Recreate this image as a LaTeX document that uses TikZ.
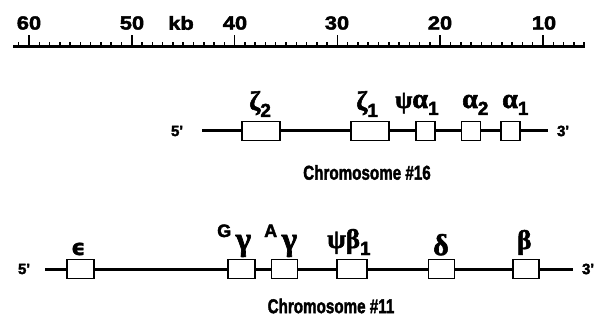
\documentclass[tikz,border=0pt]{standalone}
\usepackage{fontspec}
\setmainfont{Liberation Sans}[BoldFeatures={FakeBold=2.2}]
\newfontfamily\gkfont{Liberation Serif Bold}[FakeBold=2]
\newfontfamily\epsfont{DejaVu Sans Bold}[FakeBold=1.2]
\newcommand\lsub[1]{\raisebox{-7pt}{\normalfont\bfseries\fontsize{19}{19}\selectfont #1}}
\newcommand\lsup[1]{\raisebox{13pt}{\normalfont\bfseries\fontsize{18}{18}\selectfont #1}}
\newcommand\gsz[2]{{\fontsize{#1}{#1}\selectfont #2}}
\newcommand\prm{\textquotesingle}
\begin{document}
\begin{tikzpicture}[x=1pt,y=-1pt,
  numtxt/.style={font=\bfseries\fontsize{19}{19}\selectfont, inner sep=0pt, xscale=1.15},
  captxt/.style={font=\bfseries\fontsize{20}{20}\selectfont, inner sep=0pt, xscale=0.76},
  endtxt/.style={font=\bfseries\fontsize{15}{15}\selectfont, inner sep=0pt},
  gene/.style={draw, line width=1.8pt, minimum height=19pt, inner sep=0pt, fill=white},
  gkA/.style={font=\gkfont\fontsize{25}{25}\selectfont, inner sep=0pt, anchor=base west},
  gkB/.style={font=\gkfont\fontsize{27}{27}\selectfont, inner sep=0pt, anchor=base west},
  dna/.style={line width=3pt},
  tickln/.style={line width=1.5pt}]
\useasboundingbox (0,0) rectangle (596,320);

% kilobase scale
\coordinate (rl) at (13,47);
\coordinate (rr) at (585,47);
\draw[line width=3pt] (rl) -- (rr);
\foreach \k in {6,...,61}{
  \draw[tickln] ({543-(\k-10)*10.28},47) -- ++(0,-5);
}
\foreach \k in {10,20,...,60}{
  \draw[tickln] ({543-(\k-10)*10.28},47) -- ++(0,-12);
}
\node[numtxt] (n60) at (29,23) {60};
\node[numtxt] (n50) at (132,23) {50};
\node[numtxt] (kb)  at (181,23) {kb};
\node[numtxt] (n40) at (235,23) {40};
\node[numtxt] (n30) at (337,23) {30};
\node[numtxt] (n20) at (440,23) {20};
\node[numtxt] (n10) at (544,23) {10};

% alpha-globin cluster, chromosome 16
\node[endtxt] (c16l) at (177,131) {5\prm};
\node[endtxt] (c16r) at (563,131) {3\prm};
\coordinate (c16a) at (202,131);
\coordinate (c16b) at (548,131);
\node[gene, minimum width=38pt] (z2)  at (261,131) {};
\node[gene, minimum width=38pt] (z1)  at (370,131) {};
\node[gene, minimum width=19pt] (pa1) at (425.5,131) {};
\node[gene, minimum width=19pt] (a2)  at (471,131) {};
\node[gene, minimum width=19pt] (a1)  at (510.5,131) {};
\draw[dna] (c16a) -- (z2.west);
\draw[dna] (z2.east) -- (z1.west);
\draw[dna] (z1.east) -- (pa1.west);
\draw[dna] (pa1.east) -- (a2.west);
\draw[dna] (a2.east) -- (a1.west);
\draw[dna] (a1.east) -- (c16b);
\node[gkA] (lz2)  at (249,110) {\gsz{27}{ζ}\lsub{2}};
\node[gkA] (lz1)  at (356,110) {\gsz{27}{ζ}\lsub{1}};
\node[gkA] (lpa1) at (395,108) {ψ\gsz{28}{α}\lsub{1}};
\node[gkA] (la2)  at (462,108) {\gsz{28}{α}\lsub{2}};
\node[gkA] (la1)  at (502,108) {\gsz{28}{α}\lsub{1}};
\node[captxt] (t16) at (367,172.5) {Chromosome \#16};

% beta-globin cluster, chromosome 11
\node[endtxt] (c11l) at (24,269) {5\prm};
\node[endtxt] (c11r) at (588,269) {3\prm};
\coordinate (c11a) at (45,269);
\coordinate (c11b) at (573,269);
\node[gene, minimum width=27pt] (eps) at (80.5,269) {};
\node[gene, minimum width=27pt] (gg)  at (241.5,269) {};
\node[gene, minimum width=26pt] (ag)  at (284.5,269) {};
\node[gene, minimum width=30pt] (pb1) at (352,269) {};
\node[gene, minimum width=26pt] (del) at (441.5,269) {};
\node[gene, minimum width=26pt] (bet) at (526,269) {};
\draw[dna] (c11a) -- (eps.west);
\draw[dna] (eps.east) -- (gg.west);
\draw[dna] (gg.east) -- (ag.west);
\draw[dna] (ag.east) -- (pb1.west);
\draw[dna] (pb1.east) -- (del.west);
\draw[dna] (del.east) -- (bet.west);
\draw[dna] (bet.east) -- (c11b);
\node[gkB, font=\epsfont\fontsize{22}{22}\selectfont] (leps) at (71,255) {ϵ};
\node[gkB] (lgg)  at (217,250) {\lsup{G}\,\gsz{33}{γ}};
\node[gkB] (lag)  at (264,250) {\lsup{A}\,\gsz{33}{γ}};
\node[gkB] (lpb1) at (327,248) {ψβ\lsub{1}};
\node[gkB] (ldel) at (433,255) {\gsz{30}{δ}};
\node[gkB] (lbet) at (517,249) {β};
\node[captxt] (t11) at (331,306) {Chromosome \#11};
\end{tikzpicture}
\end{document}
